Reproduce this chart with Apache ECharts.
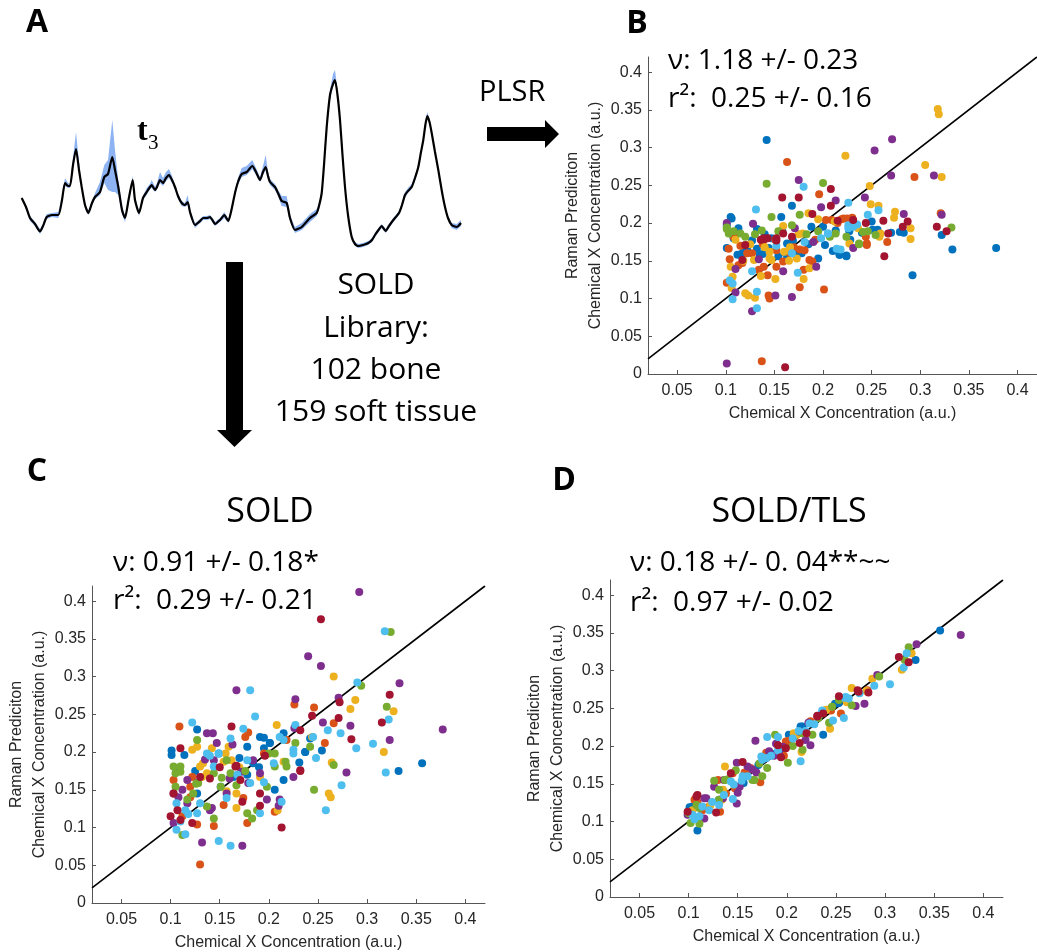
<!DOCTYPE html>
<html>
<head>
<meta charset="utf-8">
<title>SOLD figure</title>
<script src="https://cdn.jsdelivr.net/npm/echarts@6.0.0/dist/echarts.min.js"></script>
<style>
  html, body { margin: 0; padding: 0; background: #fff; }
  #chart { width: 1037px; height: 952px; }
</style>
</head>
<body>
<div id="chart"></div>
<script>
// Panel A: mean spectrum (t3) with its spread band, arbitrary units
const specX = [21.7,26,30,35,40,43,46.7,52,58.3,62,65,68,70,73,76,79,81.7,85,88.3,92,95,100,104.3,108,112.3,115,118.3,122,125,128.5,132.7,135,139,143,146.7,150,151.7,155,157,160,163,166,169,172,175,178,181.7,185,187.7,190,195,199,203.3,207,210,213,215,220,224.3,228.3,231,235,238,241.7,246.7,252.3,256,260,263,265.7,268,270,275,278,281.7,286.7,290,295,301.7,310,316.7,319,321.7,324,326.7,330,333,335,337.5,340,342.5,345,348,351.7,355,358.3,363,368.3,372,375,378.5,381.7,385.7,389,393.3,399,402,405,408,411.7,415,418.3,421,423.3,425.5,427.3,429.5,431.7,435,438.3,442,445,448,451.7,456.7,461];
const specY = [52,43,32,26,18.5,24,33,35,35,50,67,64,64,85,101,80,63,45,37,47,53,58,73,76,93,80,63,40,32,50,70,50,37,52,58,63,65,60,63,70,67,72,75,70,63,54,47,45,48,38,25,28,32,32,33,29,26,30,35,29,38,57,68,76,78,84,78,70,78,83,74,68,63,57,49,47,32,20,23,32,37,44,57,85,123,155,166,170,155,130,95,63,35,13,6,4,5,7,10,15,20,24,19,24,30,37,45,55,59,63,72,83,98,110,126,134,128,117,98,80,58,43,32,25,23,27];
const specHi = [53,45,34,28,21,26,36,37,38,53,72,67,66,92,118,88,65,47,39,49,57,68,85,90,130,100,70,44,34,53,74,53,39,54,62,66,70,63,67,78,72,78,81,74,65,56,49,47,55,40,27,30,34,34,35,31,28,32,38,31,40,60,72,82,84,90,82,73,84,95,78,71,66,60,54,54,35,23,27,36,41,47,59,88,126,160,176,180,160,132,97,65,37,15,8,6,7,9,12,17,22,26,21,26,32,39,47,58,62,66,75,86,100,112,130,138,131,119,100,82,60,45,34,27,26,30];
const specLo = [50,41,29,24,16,22,31,33,32,47,64,62,62,83,100,78,61,43,35,45,51,55,67,60,58,58,55,36,28,47,68,48,34,50,55,61,62,58,61,67,64,69,72,67,60,51,44,43,45,35,22,26,30,30,31,27,24,28,32,27,36,54,65,73,75,81,75,68,75,80,71,65,60,54,44,43,29,17,20,28,34,41,55,82,120,150,163,168,152,127,93,61,33,11,4,2,3,5,8,13,18,22,17,22,28,35,43,52,57,61,70,81,96,108,124,132,126,115,96,78,56,41,30,22,20,24];

// shared axis ticks for the three scatter panels
const xTicks = [0.05, 0.1, 0.15, 0.2, 0.25, 0.3, 0.35, 0.4];
const yTicks = [0, 0.05, 0.1, 0.15, 0.2, 0.25, 0.3, 0.35, 0.4];
const identity = [0.02, 0.42];

// Panel B: PLSR
const bBlue = [[0.142,0.310],[0.378,0.167],[0.333,0.165],[0.292,0.131],[0.322,0.184],[0.105,0.208],[0.168,0.223],[0.157,0.208],[0.250,0.202],[0.279,0.188],[0.270,0.187],[0.283,0.187],[0.210,0.163],[0.217,0.158],[0.224,0.156],[0.202,0.171],[0.101,0.167],[0.117,0.160],[0.127,0.177],[0.144,0.167],[0.163,0.173],[0.178,0.160],[0.188,0.195],[0.113,0.193],[0.101,0.197],[0.147,0.180],[0.227,0.189],[0.256,0.191],[0.200,0.195],[0.228,0.178],[0.154,0.156],[0.195,0.153],[0.108,0.180],[0.122,0.165],[0.135,0.158],[0.140,0.185],[0.158,0.190],[0.172,0.158],[0.185,0.172],[0.213,0.190],[0.240,0.187],[0.132,0.192],[0.112,0.158],[0.120,0.164],[0.163,0.155],[0.169,0.177],[0.227,0.195],[0.251,0.191],[0.217,0.158],[0.224,0.157],[0.132,0.166],[0.138,0.159],[0.106,0.206]];
const bOrange = [[0.163,0.281],[0.196,0.238],[0.294,0.261],[0.321,0.213],[0.137,0.017],[0.144,0.104],[0.145,0.100],[0.176,0.115],[0.201,0.112],[0.101,0.121],[0.134,0.138],[0.117,0.147],[0.104,0.152],[0.108,0.184],[0.127,0.160],[0.151,0.178],[0.181,0.164],[0.189,0.149],[0.244,0.182],[0.245,0.171],[0.266,0.175],[0.221,0.206],[0.230,0.207],[0.203,0.204],[0.166,0.160],[0.143,0.131],[0.192,0.178],[0.152,0.164],[0.209,0.204],[0.115,0.170],[0.138,0.172],[0.170,0.168],[0.103,0.166],[0.215,0.200],[0.108,0.182],[0.122,0.160],[0.113,0.144],[0.139,0.142],[0.152,0.142],[0.176,0.165],[0.219,0.205],[0.225,0.206],[0.245,0.173],[0.186,0.151],[0.180,0.138],[0.159,0.149]];
const bYellow = [[0.318,0.351],[0.319,0.344],[0.223,0.289],[0.305,0.277],[0.322,0.261],[0.248,0.249],[0.249,0.225],[0.257,0.223],[0.274,0.215],[0.273,0.207],[0.290,0.193],[0.290,0.179],[0.105,0.142],[0.107,0.129],[0.106,0.114],[0.120,0.107],[0.123,0.104],[0.130,0.101],[0.151,0.126],[0.136,0.130],[0.160,0.162],[0.180,0.126],[0.186,0.140],[0.236,0.193],[0.212,0.202],[0.185,0.213],[0.147,0.151],[0.110,0.178],[0.259,0.186],[0.159,0.196],[0.140,0.168],[0.165,0.150],[0.175,0.185],[0.195,0.205],[0.125,0.172],[0.145,0.162],[0.118,0.150],[0.145,0.153],[0.166,0.168],[0.179,0.186],[0.227,0.173],[0.258,0.182],[0.173,0.153],[0.129,0.151]];
const bPurple = [[0.271,0.311],[0.253,0.296],[0.270,0.263],[0.175,0.257],[0.243,0.234],[0.213,0.230],[0.198,0.221],[0.283,0.212],[0.314,0.263],[0.322,0.211],[0.101,0.014],[0.127,0.083],[0.151,0.104],[0.168,0.102],[0.110,0.108],[0.193,0.142],[0.159,0.136],[0.134,0.152],[0.101,0.200],[0.231,0.167],[0.128,0.199],[0.171,0.193],[0.110,0.139],[0.190,0.175]];
const bGreen = [[0.142,0.252],[0.200,0.253],[0.332,0.194],[0.147,0.208],[0.176,0.211],[0.101,0.192],[0.108,0.189],[0.115,0.186],[0.137,0.190],[0.154,0.189],[0.168,0.197],[0.195,0.189],[0.207,0.182],[0.224,0.182],[0.237,0.172],[0.241,0.188],[0.254,0.184],[0.213,0.186],[0.183,0.185],[0.120,0.182],[0.103,0.186],[0.130,0.185],[0.246,0.189],[0.101,0.194],[0.237,0.173]];
const bLight = [[0.131,0.218],[0.180,0.248],[0.226,0.227],[0.246,0.211],[0.257,0.217],[0.132,0.109],[0.132,0.087],[0.107,0.099],[0.104,0.124],[0.174,0.134],[0.181,0.175],[0.231,0.195],[0.205,0.186],[0.218,0.165],[0.127,0.136],[0.168,0.160],[0.226,0.197],[0.198,0.180],[0.107,0.120],[0.235,0.198],[0.152,0.170],[0.226,0.193],[0.205,0.186],[0.214,0.166]];
const bRed = [[0.161,0.009],[0.158,0.234],[0.175,0.234],[0.208,0.245],[0.208,0.223],[0.262,0.203],[0.267,0.186],[0.263,0.156],[0.287,0.202],[0.282,0.195],[0.317,0.195],[0.327,0.189],[0.244,0.200],[0.215,0.203],[0.189,0.212],[0.159,0.186],[0.136,0.178],[0.143,0.180],[0.120,0.171],[0.117,0.151],[0.168,0.182],[0.231,0.204],[0.140,0.179],[0.152,0.177],[0.139,0.180],[0.152,0.180]];

// Panel C: SOLD
const cBlue = [[0.356,0.185],[0.332,0.175],[0.101,0.202],[0.101,0.196],[0.114,0.196],[0.127,0.230],[0.201,0.212],[0.195,0.219],[0.215,0.225],[0.237,0.200],[0.254,0.202],[0.242,0.218],[0.231,0.186],[0.206,0.150],[0.184,0.185],[0.178,0.170],[0.164,0.167],[0.149,0.198],[0.106,0.176],[0.127,0.145],[0.215,0.163],[0.170,0.192],[0.190,0.180],[0.125,0.175],[0.178,0.207],[0.191,0.220],[0.195,0.205],[0.201,0.212],[0.237,0.200],[0.151,0.154]];
const cOrange = [[0.130,0.051],[0.109,0.234],[0.226,0.263],[0.246,0.259],[0.257,0.212],[0.266,0.238],[0.144,0.102],[0.178,0.106],[0.206,0.121],[0.176,0.220],[0.179,0.226],[0.127,0.104],[0.112,0.115],[0.103,0.163],[0.122,0.167],[0.174,0.139],[0.154,0.130],[0.195,0.198],[0.218,0.216],[0.120,0.140],[0.120,0.154]];
const cYellow = [[0.266,0.300],[0.288,0.269],[0.283,0.257],[0.327,0.254],[0.317,0.200],[0.264,0.186],[0.261,0.145],[0.263,0.140],[0.244,0.220],[0.208,0.236],[0.209,0.123],[0.167,0.126],[0.157,0.148],[0.122,0.203],[0.127,0.207],[0.130,0.181],[0.142,0.205],[0.156,0.198],[0.162,0.189],[0.137,0.172],[0.215,0.187],[0.133,0.185],[0.170,0.180],[0.132,0.167],[0.154,0.187],[0.159,0.207],[0.191,0.167],[0.167,0.145]];
const cPurple = [[0.292,0.412],[0.240,0.327],[0.253,0.314],[0.333,0.291],[0.377,0.230],[0.167,0.282],[0.227,0.270],[0.271,0.272],[0.283,0.235],[0.323,0.216],[0.279,0.173],[0.255,0.239],[0.225,0.167],[0.132,0.080],[0.173,0.076],[0.137,0.225],[0.143,0.225],[0.147,0.212],[0.103,0.106],[0.112,0.150],[0.127,0.159],[0.142,0.126],[0.191,0.172],[0.210,0.129],[0.198,0.137],[0.179,0.159],[0.117,0.132],[0.226,0.232],[0.160,0.165],[0.108,0.140],[0.135,0.190],[0.163,0.210],[0.103,0.145],[0.117,0.163],[0.144,0.189],[0.172,0.174],[0.184,0.189],[0.157,0.145],[0.211,0.137],[0.140,0.123]];
const cGreen = [[0.324,0.359],[0.294,0.288],[0.320,0.260],[0.266,0.183],[0.246,0.150],[0.227,0.212],[0.242,0.207],[0.200,0.198],[0.206,0.181],[0.127,0.216],[0.103,0.181],[0.110,0.174],[0.105,0.154],[0.117,0.137],[0.128,0.159],[0.144,0.172],[0.151,0.154],[0.137,0.128],[0.144,0.112],[0.167,0.156],[0.178,0.119],[0.183,0.112],[0.188,0.123],[0.217,0.187],[0.112,0.090],[0.157,0.189],[0.126,0.158],[0.176,0.175],[0.152,0.166],[0.110,0.181],[0.105,0.172],[0.123,0.145],[0.128,0.159],[0.206,0.198],[0.218,0.181],[0.198,0.154],[0.161,0.172]];
const cLight = [[0.318,0.360],[0.290,0.292],[0.181,0.282],[0.186,0.247],[0.122,0.239],[0.322,0.243],[0.306,0.211],[0.289,0.205],[0.273,0.225],[0.260,0.229],[0.248,0.192],[0.274,0.156],[0.258,0.123],[0.319,0.173],[0.174,0.231],[0.149,0.082],[0.161,0.076],[0.115,0.091],[0.106,0.097],[0.106,0.132],[0.110,0.108],[0.157,0.139],[0.191,0.119],[0.213,0.134],[0.225,0.203],[0.215,0.216],[0.161,0.218],[0.144,0.181],[0.130,0.132],[0.178,0.189],[0.205,0.185],[0.227,0.236],[0.118,0.118],[0.168,0.170],[0.195,0.160],[0.140,0.195],[0.137,0.198],[0.149,0.198],[0.211,0.220],[0.225,0.198],[0.245,0.220],[0.181,0.159],[0.127,0.119],[0.115,0.123]];
const cRed = [[0.253,0.376],[0.323,0.276],[0.315,0.239],[0.272,0.266],[0.271,0.245],[0.244,0.248],[0.284,0.217],[0.232,0.229],[0.232,0.175],[0.213,0.100],[0.162,0.234],[0.110,0.205],[0.100,0.115],[0.103,0.145],[0.130,0.167],[0.167,0.182],[0.191,0.145],[0.191,0.129],[0.173,0.134],[0.122,0.106],[0.107,0.123],[0.150,0.180],[0.196,0.195],[0.140,0.165],[0.166,0.181],[0.232,0.176],[0.171,0.163],[0.110,0.110]];

// Panel D: SOLD/TLS
const dBlue = [[0.356,0.353],[0.331,0.314],[0.253,0.257],[0.237,0.215],[0.214,0.226],[0.202,0.215],[0.194,0.195],[0.171,0.175],[0.156,0.151],[0.131,0.129],[0.101,0.119],[0.109,0.088],[0.189,0.190],[0.249,0.256],[0.104,0.120],[0.216,0.226],[0.179,0.186]];
const dOrange = [[0.245,0.247],[0.255,0.243],[0.224,0.233],[0.202,0.207],[0.197,0.187],[0.179,0.191],[0.173,0.152],[0.161,0.168],[0.157,0.165],[0.130,0.155],[0.147,0.144],[0.138,0.137],[0.132,0.113],[0.109,0.126],[0.106,0.129],[0.118,0.118],[0.282,0.274],[0.121,0.120],[0.163,0.171],[0.199,0.206],[0.245,0.250],[0.145,0.164],[0.114,0.115]];
const dYellow = [[0.327,0.323],[0.317,0.301],[0.287,0.289],[0.266,0.277],[0.281,0.273],[0.261,0.258],[0.244,0.223],[0.207,0.217],[0.215,0.192],[0.137,0.173],[0.134,0.129],[0.104,0.115],[0.122,0.121],[0.210,0.215],[0.240,0.248],[0.135,0.142]];
const dPurple = [[0.377,0.347],[0.332,0.335],[0.292,0.294],[0.279,0.256],[0.270,0.253],[0.222,0.231],[0.224,0.201],[0.219,0.208],[0.189,0.203],[0.168,0.207],[0.196,0.199],[0.187,0.187],[0.169,0.165],[0.165,0.169],[0.160,0.173],[0.149,0.178],[0.136,0.155],[0.150,0.138],[0.149,0.124],[0.118,0.131],[0.099,0.109],[0.116,0.104],[0.135,0.131],[0.116,0.131],[0.152,0.146],[0.182,0.193],[0.213,0.219],[0.126,0.146],[0.192,0.190]];
const dGreen = [[0.324,0.331],[0.320,0.314],[0.294,0.292],[0.266,0.254],[0.246,0.252],[0.243,0.231],[0.216,0.217],[0.226,0.215],[0.216,0.195],[0.201,0.178],[0.188,0.215],[0.206,0.200],[0.180,0.171],[0.175,0.160],[0.167,0.155],[0.148,0.168],[0.140,0.156],[0.126,0.154],[0.131,0.142],[0.111,0.118],[0.102,0.098],[0.111,0.097],[0.108,0.122],[0.232,0.237],[0.131,0.129],[0.172,0.177],[0.253,0.261],[0.137,0.155],[0.165,0.155],[0.100,0.111]];
const dLight = [[0.322,0.323],[0.319,0.304],[0.289,0.280],[0.305,0.282],[0.274,0.270],[0.259,0.264],[0.236,0.247],[0.247,0.234],[0.258,0.237],[0.219,0.220],[0.212,0.220],[0.214,0.180],[0.180,0.212],[0.191,0.212],[0.191,0.194],[0.184,0.187],[0.179,0.184],[0.175,0.182],[0.160,0.160],[0.154,0.154],[0.146,0.149],[0.145,0.130],[0.136,0.135],[0.124,0.126],[0.131,0.122],[0.121,0.115],[0.114,0.120],[0.104,0.109],[0.106,0.103],[0.228,0.229],[0.263,0.263],[0.143,0.153],[0.155,0.160],[0.174,0.186],[0.206,0.210],[0.223,0.230],[0.236,0.245],[0.260,0.265],[0.111,0.107]];
const dRed = [[0.314,0.318],[0.324,0.311],[0.272,0.274],[0.283,0.271],[0.253,0.266],[0.237,0.243],[0.231,0.240],[0.199,0.197],[0.194,0.185],[0.143,0.164],[0.128,0.112],[0.109,0.135],[0.099,0.113],[0.220,0.217],[0.273,0.272],[0.108,0.133],[0.191,0.201],[0.231,0.239],[0.155,0.179],[0.213,0.204]];

// MATLAB default colour order
const COLORS = ['#0072BD', '#D95319', '#EDB120', '#7E2F8E', '#77AC30', '#4DBEEE', '#A2142F'];
const TEXT = '#262626';
const SANS = '"Liberation Sans", Arial, sans-serif';
const OPEN = '"Open Sans", "Noto Sans", sans-serif';

const panels = [
  { grid: { left: 648, top: 57, width: 392, height: 317 }, groups: [bBlue, bOrange, bYellow, bPurple, bGreen, bLight, bRed] },
  { grid: { left: 92, top: 586, width: 393, height: 317 }, groups: [cBlue, cOrange, cYellow, cPurple, cGreen, cLight, cRed] },
  { grid: { left: 610, top: 580, width: 393, height: 317 }, groups: [dBlue, dOrange, dYellow, dPurple, dGreen, dLight, dRed] }
];

const grids = [{ left: 20, top: 60, width: 442, height: 190 }];
const xAxes = [{ gridIndex: 0, type: 'value', min: 20, max: 462, show: false }];
const yAxes = [{ gridIndex: 0, type: 'value', min: 0, max: 190, show: false }];
const series = [];

// Panel A spectrum: band polygon (upper edge, then lower edge reversed) through the axes
series.push({
  type: 'custom', xAxisIndex: 0, yAxisIndex: 0, data: [0], silent: true, z: 1,
  renderItem: function (params, api) {
    const upper = specX.map((x, i) => api.coord([x, specHi[i]]));
    const lower = specX.map((x, i) => api.coord([x, specLo[i]])).reverse();
    return { type: 'polygon', shape: { points: upper.concat(lower) }, style: { fill: '#8db3f2' } };
  }
});
series.push({
  type: 'line', xAxisIndex: 0, yAxisIndex: 0, data: specX.map((x, i) => [x, specY[i]]),
  showSymbol: false, smooth: 0.2, lineStyle: { color: '#000', width: 2.2 }, silent: true, z: 3
});

panels.forEach((p, k) => {
  const idx = k + 1;
  grids.push(p.grid);
  xAxes.push({
    gridIndex: idx, type: 'value', min: identity[0], max: identity[1],
    name: 'Chemical X Concentration (a.u.)', nameLocation: 'middle', nameGap: 32,
    nameTextStyle: { color: TEXT, fontFamily: SANS, fontSize: 16 },
    axisLine: { show: true, lineStyle: { color: '#555', width: 1 } },
    axisTick: { show: true, inside: true, length: 4, customValues: xTicks, lineStyle: { color: '#555' } },
    axisLabel: { customValues: xTicks, color: TEXT, fontFamily: SANS, fontSize: 16, margin: 9 },
    splitLine: { show: false }
  });
  yAxes.push({
    gridIndex: idx, type: 'value', min: 0, max: identity[1],
    name: 'Raman Prediciton\nChemical X Concentration (a.u.)', nameLocation: 'middle', nameGap: 38,
    nameTextStyle: { color: TEXT, fontFamily: SANS, fontSize: 16, lineHeight: 23 },
    axisLine: { show: true, lineStyle: { color: '#555', width: 1 } },
    axisTick: { show: true, inside: true, length: 4, customValues: yTicks, lineStyle: { color: '#555' } },
    axisLabel: { customValues: yTicks, color: TEXT, fontFamily: SANS, fontSize: 16, margin: 6 },
    splitLine: { show: false }
  });
  series.push({
    type: 'line', xAxisIndex: idx, yAxisIndex: idx, showSymbol: false, silent: true,
    data: [[identity[0], identity[0]], [identity[1], identity[1]]],
    lineStyle: { color: '#000', width: 1.6 }, z: 2
  });
  p.groups.forEach((pts, c) => {
    series.push({
      type: 'scatter', xAxisIndex: idx, yAxisIndex: idx, data: pts,
      symbolSize: 8, itemStyle: { color: COLORS[c], opacity: 1 }, silent: true, z: 3
    });
  });
});

function txt(x, y, text, font, align) {
  return {
    type: 'text', x: x, y: y, z: 10,
    style: { text: text, font: font, fill: '#000', textAlign: align || 'left', textVerticalAlign: 'middle' }
  };
}

const graphic = [
  txt(37, 23, 'A', 'bold 32px ' + OPEN, 'center'),
  txt(637, 24, 'B', 'bold 32px ' + OPEN, 'center'),
  txt(37, 472, 'C', 'bold 32px ' + OPEN, 'center'),
  txt(564, 481, 'D', 'bold 32px ' + OPEN, 'center'),
  txt(137, 132, 't', 'bold 32px "Liberation Serif", "DejaVu Serif", serif'),
  txt(148, 143, '3', '21px "Liberation Serif", "DejaVu Serif", serif'),
  txt(479, 93, 'PLSR', '29px ' + OPEN),
  txt(376, 285, 'SOLD', '30px ' + OPEN, 'center'),
  txt(376, 328, 'Library:', '30px ' + OPEN, 'center'),
  txt(376, 370, '102 bone', '30px ' + OPEN, 'center'),
  txt(376, 412, '159 soft tissue', '30px ' + OPEN, 'center'),
  txt(668, 61, 'ν: 1.18 +/- 0.23', '28px ' + OPEN),
  txt(668, 99, 'r²:  0.25 +/- 0.16', '28px ' + OPEN),
  txt(270, 512, 'SOLD', '34px ' + OPEN, 'center'),
  txt(113, 563, 'ν: 0.91 +/- 0.18*', '28px ' + OPEN),
  txt(113, 601, 'r²:  0.29 +/- 0.21', '28px ' + OPEN),
  txt(789, 512, 'SOLD/TLS', '34px ' + OPEN, 'center'),
  txt(630, 563, 'ν: 0.18 +/- 0. 04**~~', '28px ' + OPEN),
  txt(630, 603, 'r²:  0.97 +/- 0.02', '28px ' + OPEN),
  {
    type: 'polygon', z: 10,
    shape: { points: [[487,127],[545,127],[545,120],[559,134],[545,148],[545,141],[487,141]] },
    style: { fill: '#000' }
  },
  {
    type: 'polygon', z: 10,
    shape: { points: [[226,262],[243,262],[243,430],[252,430],[234.5,447],[217,430],[226,430]] },
    style: { fill: '#000' }
  }
];

const chart = echarts.init(document.getElementById('chart'), null, { renderer: 'canvas' });
chart.setOption({
  animation: false,
  backgroundColor: '#fff',
  grid: grids,
  xAxis: xAxes,
  yAxis: yAxes,
  series: series,
  graphic: graphic
});
</script>
</body>
</html>
